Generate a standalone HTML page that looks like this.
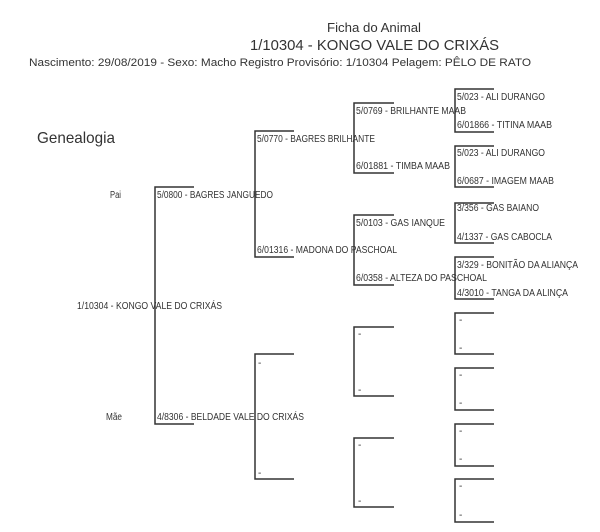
<!DOCTYPE html>
<html><head><meta charset="utf-8"><style>
html,body{margin:0;padding:0;background:#fff;width:600px;height:532px;overflow:hidden}
svg{display:block}
text{font-family:"Liberation Sans",sans-serif;fill:#333}
.l{font-size:10px}
</style></head><body>
<svg width="600" height="532" viewBox="0 0 600 532" xmlns="http://www.w3.org/2000/svg">
<text x="374" y="32" font-size="12.5" text-anchor="middle" textLength="94" lengthAdjust="spacingAndGlyphs">Ficha do Animal</text>
<text x="250" y="50" font-size="15" textLength="249" lengthAdjust="spacingAndGlyphs">1/10304 - KONGO VALE DO CRIXÁS</text>
<text x="29" y="66" font-size="11" textLength="502" lengthAdjust="spacingAndGlyphs">Nascimento: 29/08/2019 - Sexo: Macho  Registro Provisório: 1/10304  Pelagem: PÊLO DE RATO</text>
<text x="37" y="143" font-size="16" textLength="78" lengthAdjust="spacingAndGlyphs">Genealogia</text>

<g stroke="#333" stroke-width="1.5" fill="none">
<path d="M194 187H155V424H194"/>
<path d="M294 131H255V257H294"/>
<path d="M294 354H255V479H294"/>
<path d="M394 103H354V173H394"/>
<path d="M394 215H354V285H394"/>
<path d="M394 327H354V396H394"/>
<path d="M394 438H354V507H394"/>
<path d="M494 89H455V132H494"/>
<path d="M494 146H455V187H494"/>
<path d="M494 203H455V243H494"/>
<path d="M494 257H455V299H494"/>
<path d="M494 313H455V354H494"/>
<path d="M494 368H455V410H494"/>
<path d="M494 424H455V466H494"/>
<path d="M494 479H455V522H494"/>
</g>

<g class="l">
<text x="77" y="309" textLength="145" lengthAdjust="spacingAndGlyphs">1/10304 - KONGO VALE DO CRIXÁS</text>
<text x="110" y="198" textLength="11" lengthAdjust="spacingAndGlyphs">Pai</text>
<text x="106" y="420" textLength="16" lengthAdjust="spacingAndGlyphs">Mãe</text>
<text x="157" y="198" textLength="116" lengthAdjust="spacingAndGlyphs">5/0800 - BAGRES JANGUEDO</text>
<text x="157" y="420" textLength="147" lengthAdjust="spacingAndGlyphs">4/8306 - BELDADE VALE DO CRIXÁS</text>

<text x="257" y="142" textLength="118" lengthAdjust="spacingAndGlyphs">5/0770 - BAGRES BRILHANTE</text>
<text x="257" y="253" textLength="140" lengthAdjust="spacingAndGlyphs">6/01316 - MADONA DO PASCHOAL</text>
<text x="258" y="366">-</text>
<text x="258" y="476">-</text>

<text x="356" y="114" textLength="110" lengthAdjust="spacingAndGlyphs">5/0769 - BRILHANTE MAAB</text>
<text x="356" y="169" textLength="94" lengthAdjust="spacingAndGlyphs">6/01881 - TIMBA MAAB</text>
<text x="356" y="226" textLength="89" lengthAdjust="spacingAndGlyphs">5/0103 - GAS IANQUE</text>
<text x="356" y="281" textLength="131" lengthAdjust="spacingAndGlyphs">6/0358 - ALTEZA DO PASCHOAL</text>
<text x="358" y="337">-</text>
<text x="358" y="393">-</text>
<text x="358" y="448">-</text>
<text x="358" y="504">-</text>

<text x="457" y="100" textLength="88" lengthAdjust="spacingAndGlyphs">5/023 - ALI DURANGO</text>
<text x="457" y="128" textLength="95" lengthAdjust="spacingAndGlyphs">6/01866 - TITINA MAAB</text>
<text x="457" y="156" textLength="88" lengthAdjust="spacingAndGlyphs">5/023 - ALI DURANGO</text>
<text x="457" y="184" textLength="97" lengthAdjust="spacingAndGlyphs">6/0687 - IMAGEM MAAB</text>
<text x="457" y="211" textLength="82" lengthAdjust="spacingAndGlyphs">3/356 - GAS BAIANO</text>
<text x="457" y="240" textLength="95" lengthAdjust="spacingAndGlyphs">4/1337 - GAS CABOCLA</text>
<text x="457" y="268" textLength="121" lengthAdjust="spacingAndGlyphs">3/329 - BONITÃO DA ALIANÇA</text>
<text x="457" y="296" textLength="111" lengthAdjust="spacingAndGlyphs">4/3010 - TANGA DA ALINÇA</text>
<text x="459" y="323">-</text>
<text x="459" y="351">-</text>
<text x="459" y="378">-</text>
<text x="459" y="406">-</text>
<text x="459" y="434">-</text>
<text x="459" y="462">-</text>
<text x="459" y="489">-</text>
<text x="459" y="518">-</text>
</g>
</svg>
</body></html>
